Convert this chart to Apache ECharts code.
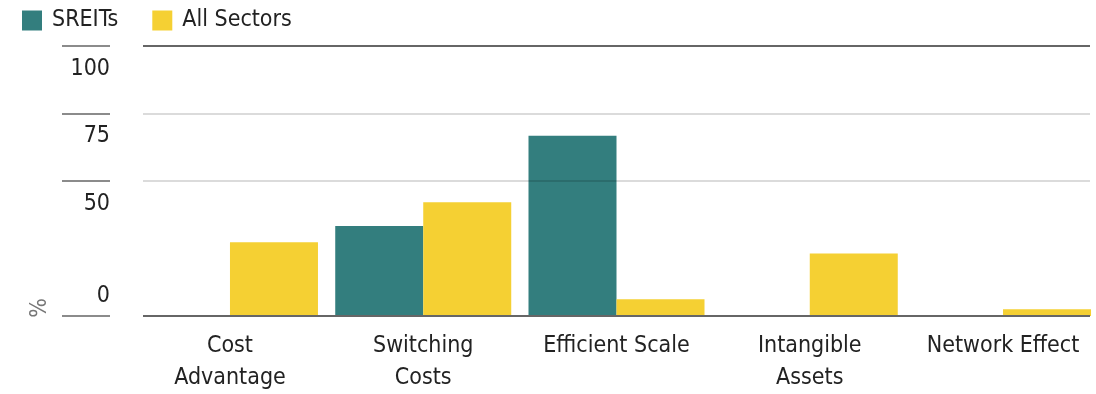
<!DOCTYPE html>
<html>
<head>
<meta charset="utf-8">
<script src="https://cdn.jsdelivr.net/npm/echarts@6/dist/echarts.min.js"></script>
<style>
html,body{margin:0;padding:0;background:#fff;}
#chart{width:1096px;height:394px;}
</style>
</head>
<body>
<div id="chart"></div>
<script>
const categories = ['Cost\nAdvantage', 'Switching\nCosts', 'Efficient Scale', 'Intangible\nAssets', 'Network Effect'];
const sreits = [0, 33.3, 66.7, 0, 0];
const allSectors = [27.3, 42.1, 6.2, 23.1, 2.5];
const tickValues = [0, 50, 75, 100];
const seriesNames = ['SREITs', 'All Sectors'];
const axisUnit = '%';

const FONT = '"Liberation Sans Narrow", "DejaVu Sans Condensed", "Roboto", sans-serif';
const FS = 23;
const TEAL = '#337e7e';
const YELLOW = '#f5d033';

const catIndex = categories.map(function (_, i) { return i; });

const chart = echarts.init(document.getElementById('chart'), null, {renderer: 'canvas'});
const option = {
  animation: false,
  legend: {
    left: 17, top: 4,
    icon: 'rect', itemWidth: 20, itemHeight: 20, itemGap: 34,
    textStyle: {fontFamily: FONT, fontSize: FS, color: '#222', padding: [0, 0, 0, 5]},
    data: seriesNames
  },
  grid: [
    {left: 143, right: 6, top: 45.7, bottom: 77.3}
  ],
  xAxis: [
    {
      type: 'value', gridIndex: 0, min: -0.45, max: 4.45,
      axisLine: {show: false}, axisTick: {show: false}, splitLine: {show: false},
      axisLabel: {
        customValues: catIndex,
        formatter: function (v) { return categories[Math.round(v)]; },
        fontFamily: FONT, fontSize: FS, color: '#222', lineHeight: 32, margin: 14
      }
    }
  ],
  yAxis: [
    {
      type: 'value', gridIndex: 0, min: 0, max: 100, interval: 25, z: 5,
      axisLine: {show: false}, axisTick: {show: false}, axisLabel: {show: false},
      splitLine: {show: true, lineStyle: {width: 2, color: ['#666', 'rgba(0,0,0,0)', 'rgba(0,0,0,0.14)', 'rgba(0,0,0,0.14)', '#666']}}
    },
    {
      type: 'value', gridIndex: 0, min: 0, max: 100, position: 'left', offset: 33, z: 5,
      axisLine: {show: false},
      splitLine: {show: false},
      axisTick: {show: true, customValues: tickValues, length: 48, lineStyle: {color: '#666', width: 1.5}},
      axisLabel: {
        show: true, customValues: tickValues, margin: 0,
        formatter: function (v) { return v === 0 ? '{b|' + v + '}' : '{t|' + v + '}'; },
        rich: {
          t: {fontFamily: FONT, fontSize: FS, color: '#222', padding: [46, 0, 0, 0]},
          b: {fontFamily: FONT, fontSize: FS, color: '#222', padding: [0, 0, 40, 0]}
        }
      }
    }
  ],
  graphic: [{
    type: 'text', left: 29, top: 298, rotation: Math.PI / 2,
    style: {text: axisUnit, fontFamily: FONT, fontSize: 23, fill: '#777'}
  }],
  series: [
    {name: seriesNames[0], type: 'bar', xAxisIndex: 0, yAxisIndex: 0,
     data: sreits.map(function (v, i) { return [i, v]; }),
     barWidth: 88, barGap: '0%', itemStyle: {color: TEAL}},
    {name: seriesNames[1], type: 'bar', xAxisIndex: 0, yAxisIndex: 0,
     data: allSectors.map(function (v, i) { return [i, v]; }),
     barWidth: 88, barGap: '0%', itemStyle: {color: YELLOW}}
  ]
};
chart.setOption(option);
</script>
</body>
</html>
